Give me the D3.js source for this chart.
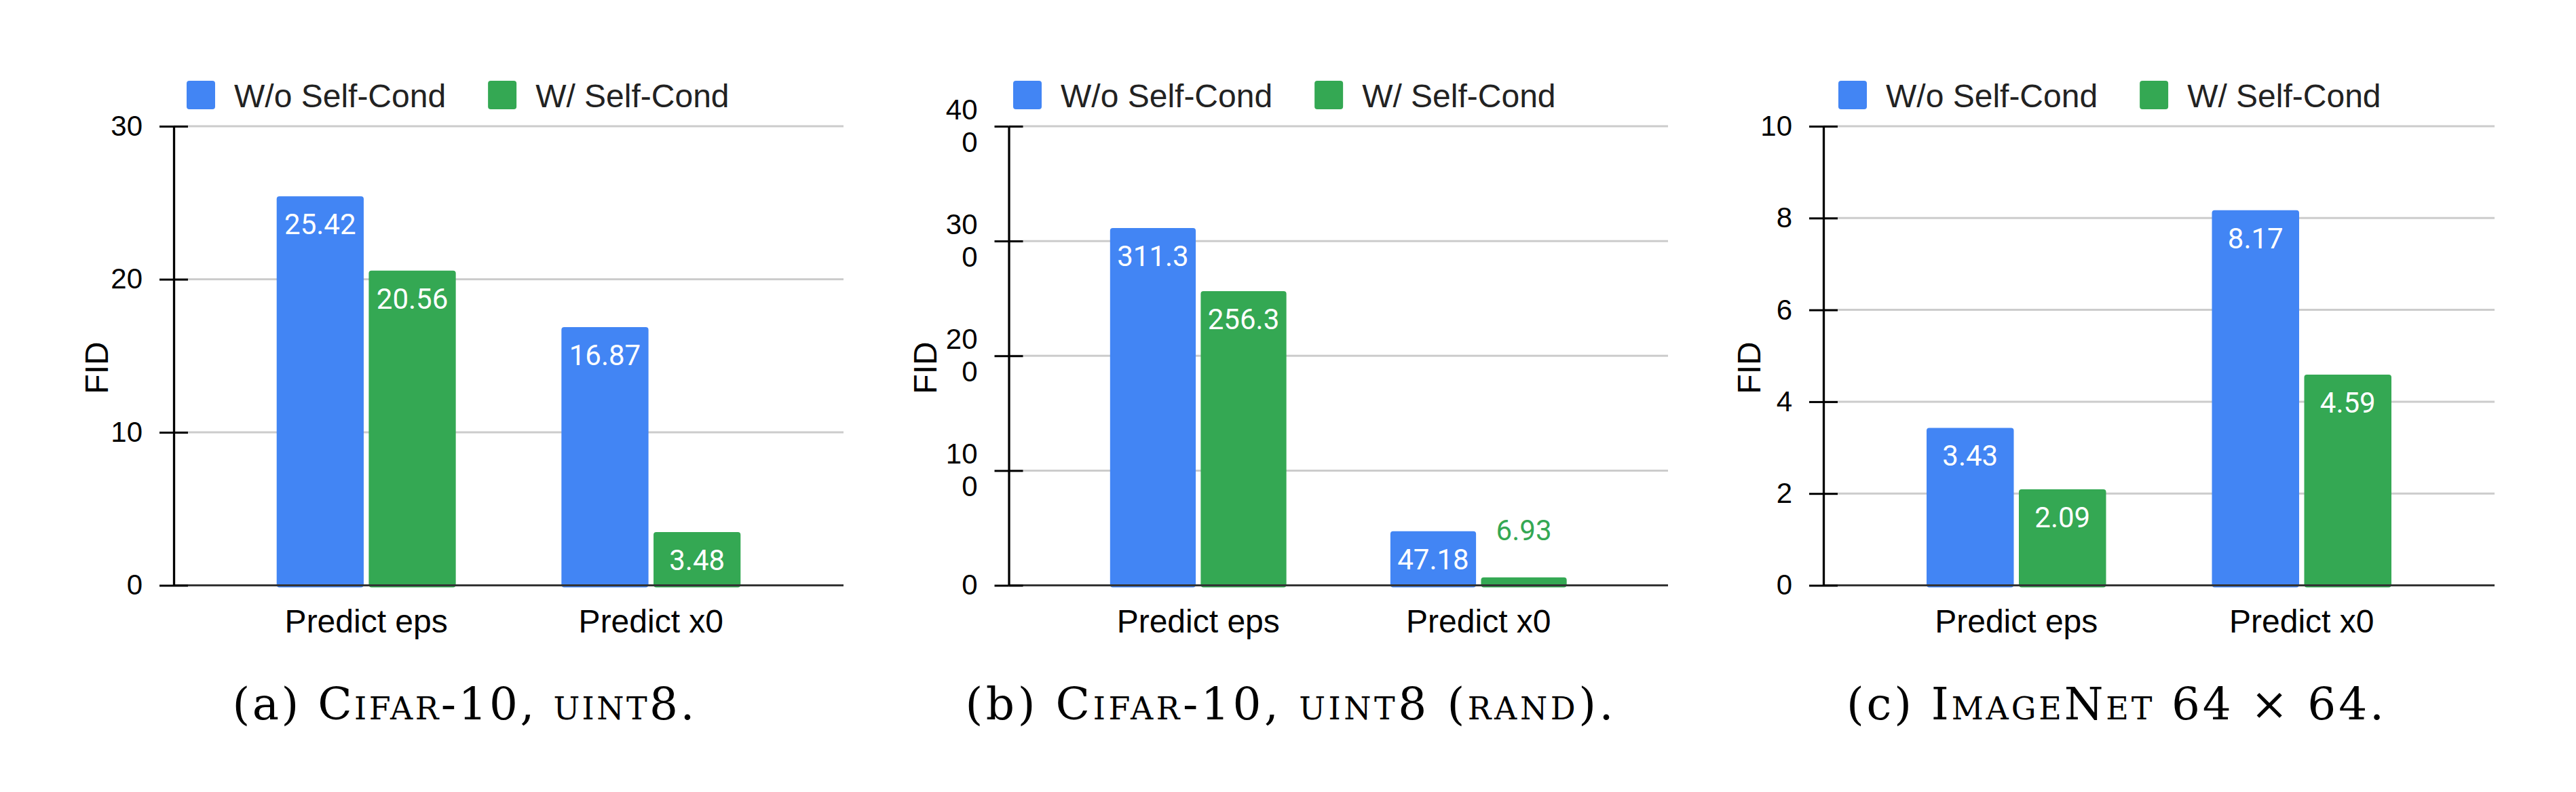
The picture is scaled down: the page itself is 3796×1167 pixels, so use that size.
<!DOCTYPE html>
<html>
<head>
<meta charset="utf-8">
<script src="https://cdn.jsdelivr.net/npm/d3@7"></script>
<style>
  body { margin: 0; background: #fff; }
  svg { display: block; }
</style>
</head>
<body>
<script>
// values
const categories = ['Predict eps', 'Predict x0'];
const seriesNames = ['W/o Self-Cond', 'W/ Self-Cond'];
const seriesColors = ['#4285f4', '#34a853'];

const cifarWithout = [25.42, 16.87];
const cifarWith = [20.56, 3.48];
const randWithout = [311.3, 47.18];
const randWith = [256.3, 6.93];
const imagenetWithout = [3.43, 8.17];
const imagenetWith = [2.09, 4.59];

const ticksA = [0, 10, 20, 30];
const ticksB = [0, 100, 200, 300, 400];
const ticksC = [0, 2, 4, 6, 8, 10];
// panel b wraps its tick labels onto two lines
const tickLabelsB = [['0'], ['10', '0'], ['20', '0'], ['30', '0'], ['40', '0']];

const yTitle = 'FID';
// caption pieces: [text, small caps?]
const captionA = [['(a) ', false], ['Cifar-10, uint8', true], ['.', false]];
const captionB = [['(b) ', false], ['Cifar-10, uint8 (rand)', true], ['.', false]];
const captionC = [['(c) ', false], ['ImageNet', true], [' 64 \u00d7 64.', false]];

const width = 3796, height = 1167;
const plotTop = 186, plotBase = 862.5;
const sans = '"Liberation Sans", Arial, sans-serif';

const panels = [
    {without: cifarWithout, withSc: cifarWith, ticks: ticksA, labels: null, caption: captionA,
     left: 256, right: 1243, titleX: 159, legendX: 275, capX: 683, capLen: 681},
    {without: randWithout, withSc: randWith, ticks: ticksB, labels: tickLabelsB, caption: captionB,
     left: 1486.5, right: 2458, titleX: 1380, legendX: 1493, capX: 1900, capLen: 955},
    {without: imagenetWithout, withSc: imagenetWith, ticks: ticksC, labels: null, caption: captionC,
     left: 2687, right: 3676, titleX: 2594, legendX: 2709, capX: 3117, capLen: 792}
];

const svg = d3.select('body').append('svg')
    .attr('width', width)
    .attr('height', height);

svg.append('rect').attr('width', width).attr('height', height).attr('fill', '#fff');

function drawPanel(p) {
    const g = svg.append('g');

    const y = d3.scaleLinear()
        .domain([0, d3.max(p.ticks)])
        .range([plotBase, plotTop]);
    const x0 = d3.scaleBand()
        .domain(categories)
        .range([p.left, p.right])
        .paddingInner(0.371)
        .paddingOuter(0.3615);
    const x1 = d3.scaleBand()
        .domain(seriesNames)
        .range([0, x0.bandwidth()])
        .paddingInner(0.055);
    const color = d3.scaleOrdinal().domain(seriesNames).range(seriesColors);

    // gridlines
    g.selectAll('.grid')
        .data(p.ticks.filter(t => t > 0))
        .enter()
        .append('line')
        .attr('x1', p.left)
        .attr('x2', p.right)
        .attr('y1', d => y(d))
        .attr('y2', d => y(d))
        .attr('stroke', '#cccccc')
        .attr('stroke-width', 3);

    const rows = [];
    categories.forEach((c, i) => {
        rows.push({cat: c, series: seriesNames[0], value: p.without[i]});
        rows.push({cat: c, series: seriesNames[1], value: p.withSc[i]});
    });

    g.selectAll('.bar')
        .data(rows)
        .enter()
        .append('rect')
        .attr('x', d => x0(d.cat) + x1(d.series))
        .attr('y', d => y(d.value))
        .attr('width', x1.bandwidth())
        .attr('height', d => plotBase - y(d.value) + 3)
        .attr('rx', 4)
        .attr('fill', d => color(d.series));

    // value labels, inside the bar unless it is too short
    g.selectAll('.val')
        .data(rows)
        .enter()
        .append('text')
        .attr('x', d => x0(d.cat) + x1(d.series) + x1.bandwidth() / 2)
        .attr('y', d => (plotBase - y(d.value) > 60) ? y(d.value) + 56 : y(d.value) - 55)
        .attr('text-anchor', 'middle')
        .attr('font-family', 'Roboto, sans-serif')
        .attr('font-size', 42)
        .attr('fill', d => (plotBase - y(d.value) > 60) ? '#fff' : color(d.series))
        .text(d => String(d.value));

    // baseline
    g.append('line')
        .attr('x1', p.left)
        .attr('x2', p.right)
        .attr('y1', plotBase)
        .attr('y2', plotBase)
        .attr('stroke', '#333')
        .attr('stroke-width', 3);

    // y axis
    const yAxis = d3.axisLeft(y)
        .tickValues(p.ticks)
        .tickSizeInner(21)
        .tickSizeOuter(0)
        .tickPadding(25)
        .tickFormat(d3.format('d'));
    const ax = g.append('g')
        .attr('transform', `translate(${p.left},0)`)
        .call(yAxis)
        .attr('font-family', sans)
        .attr('font-size', 42);
    ax.select('.domain').attr('stroke', '#000').attr('stroke-width', 3.3);
    ax.selectAll('.tick line').attr('stroke', '#000').attr('stroke-width', 3);
    ax.selectAll('.tick').append('line')
        .attr('x2', 21)
        .attr('stroke', '#000')
        .attr('stroke-width', 3);
    ax.selectAll('.tick text').attr('fill', '#000');

    if (p.labels) {
        ax.selectAll('.tick text').each(function(d, i) {
            const lines = p.labels[i];
            if (lines.length < 2) return;
            const t = d3.select(this).text(null).attr('dy', null);
            t.append('tspan').attr('x', -46).attr('y', -10.7).text(lines[0]);
            t.append('tspan').attr('x', -46).attr('y', 37).text(lines[1]);
        });
    }

    // x axis labels
    const xAxis = d3.axisBottom(x0).tickSize(0).tickPadding(35);
    const bx = g.append('g')
        .attr('transform', `translate(0,${plotBase})`)
        .call(xAxis)
        .attr('font-family', sans)
        .attr('font-size', 48);
    bx.select('.domain').remove();
    bx.selectAll('.tick text').attr('fill', '#000');

    // y title
    g.append('text')
        .attr('transform', `translate(${p.titleX},542) rotate(-90)`)
        .attr('text-anchor', 'middle')
        .attr('font-family', sans)
        .attr('font-size', 48)
        .attr('fill', '#000')
        .text(yTitle);

    // legend
    let lx = p.legendX;
    seriesNames.forEach((s, i) => {
        g.append('rect')
            .attr('x', lx)
            .attr('y', 119)
            .attr('width', 42)
            .attr('height', 42)
            .attr('rx', 4)
            .attr('fill', color(s));
        const t = g.append('text')
            .attr('x', lx + 70)
            .attr('y', 158)
            .attr('font-family', sans)
            .attr('font-size', 48)
            .attr('fill', '#222')
            .text(s);
        lx = lx + 70 + t.node().getComputedTextLength() + 62;
    });

    // caption
    const cap = g.append('text')
        .attr('x', p.capX)
        .attr('y', 1060)
        .attr('text-anchor', 'middle')
        .attr('font-family', '"DejaVu Serif", "Liberation Serif", serif')
        .attr('font-size', 66)
        .attr('textLength', p.capLen)
        .attr('lengthAdjust', 'spacing')
        .attr('fill', '#000');
    cap.selectAll('tspan')
        .data(p.caption)
        .enter()
        .append('tspan')
        .attr('font-variant', d => d[1] ? 'small-caps' : 'normal')
        .text(d => d[0]);
}

panels.forEach(drawPanel);
</script>
</body>
</html>
